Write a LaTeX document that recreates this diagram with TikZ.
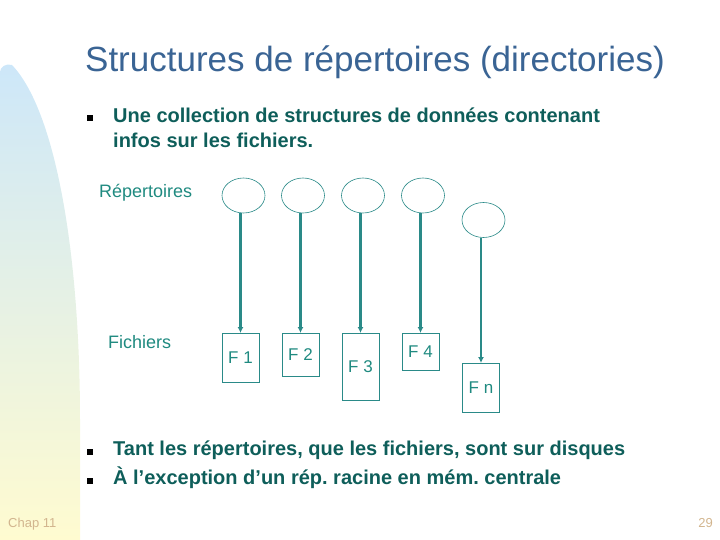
\documentclass[tikz,border=0pt]{standalone}
\usepackage{fontspec}
\setmainfont{Liberation Sans}
\usetikzlibrary{arrows.meta,shapes.geometric}
\definecolor{titleblue}{HTML}{3A6494}
\definecolor{bodyteal}{HTML}{0E5E5A}
\definecolor{labelteal}{HTML}{1F8A80}
\definecolor{linkteal}{HTML}{2A8A88}
\definecolor{footertan}{HTML}{D2B58E}
\definecolor{bandblue}{HTML}{CDE7F9}
\definecolor{bandyellow}{HTML}{FFFBD0}
\tikzset{
  dirnode/.style={ellipse,draw=linkteal,line width=0.6pt,minimum width=43pt,minimum height=35pt,inner sep=0pt},
  filebox/.style={draw=linkteal,line width=0.9pt,minimum width=37pt,inner sep=0pt,text=labelteal,font=\fontsize{17}{19}\selectfont},
  fileptr/.style={-{Latex[length=6pt,width=6pt]},line width=2.4pt,draw=linkteal},
  bodytext/.style={text=bodyteal,font=\bfseries\fontsize{20}{25}\selectfont,align=left,inner sep=0pt},
  sidelabel/.style={text=labelteal,font=\fontsize{18}{20}\selectfont,inner sep=0pt},
  bulletsq/.style={fill=black,minimum size=6pt,inner sep=0pt},
  footer/.style={text=footertan,font=\fontsize{13}{15}\selectfont,inner sep=0pt}
}
\frenchspacing

\begin{document}
\begin{tikzpicture}[x=1pt,y=-1pt]
  \useasboundingbox (0,0) rectangle (720,540);
  % side band
  \shade[top color=bandblue,bottom color=bandyellow]
    (0,540) -- (0,72) .. controls (0,67) and (6,63) .. (12,65)
    .. controls (55,110) and (80,250) .. (80,420) -- (80,540) -- cycle;

  \node[text=titleblue,font=\fontsize{35}{40}\selectfont,inner sep=0pt,anchor=base] (title) at (375,72)
    {Structures de répertoires (directories)};

  \node[bulletsq] (b1) at (89.5,118) {};
  \node[bodytext,anchor=north west] (t1) at (113,107.5)
    {Une collection de structures de données contenant\\infos sur les fichiers.};

  \node[sidelabel,anchor=base west] (rep) at (99,197.5) {Répertoires};
  \node[sidelabel,anchor=base west] (fic) at (108,348.5) {Fichiers};

  \node[dirnode] (d1) at (243.5,195.5) {};
  \node[dirnode] (d2) at (303,195.5) {};
  \node[dirnode] (d3) at (363,195.5) {};
  \node[dirnode] (d4) at (423,195.5) {};
  \node[dirnode] (dn) at (483.5,220) {};

  \node[filebox,anchor=north,minimum height=49pt] (f1) at (240.5,333) {F 1};
  \node[filebox,anchor=north,minimum height=43pt] (f2) at (300.5,333) {F 2};
  \node[filebox,anchor=north,minimum height=67pt] (f3) at (360.5,333) {F 3};
  \node[filebox,anchor=north,minimum height=37pt] (f4) at (420.5,333) {F 4};
  \node[filebox,anchor=north,minimum height=49pt] (fn) at (481,363) {F n};

  \draw[fileptr] (d1.south -| f1.north) -- (f1.north);
  \draw[fileptr] (d2.south -| f2.north) -- (f2.north);
  \draw[fileptr] (d3.south -| f3.north) -- (f3.north);
  \draw[fileptr] (d4.south -| f4.north) -- (f4.north);
  \draw[fileptr] (dn.south -| fn.north) -- (fn.north);

  \node[bulletsq] (b2) at (89.5,452) {};
  \node[bodytext,anchor=base west] (t2) at (113,455) {Tant les répertoires, que les fichiers, sont sur disques};
  \node[bulletsq] (b3) at (89.5,481) {};
  \node[bodytext,anchor=base west] (t3) at (113,484) {À l’exception d’un rép. racine en mém. centrale};

  \node[footer,anchor=base west] (chap) at (8,527) {Chap 11};
  \node[footer,anchor=base east] (page) at (713,527) {29};
\end{tikzpicture}
\end{document}
